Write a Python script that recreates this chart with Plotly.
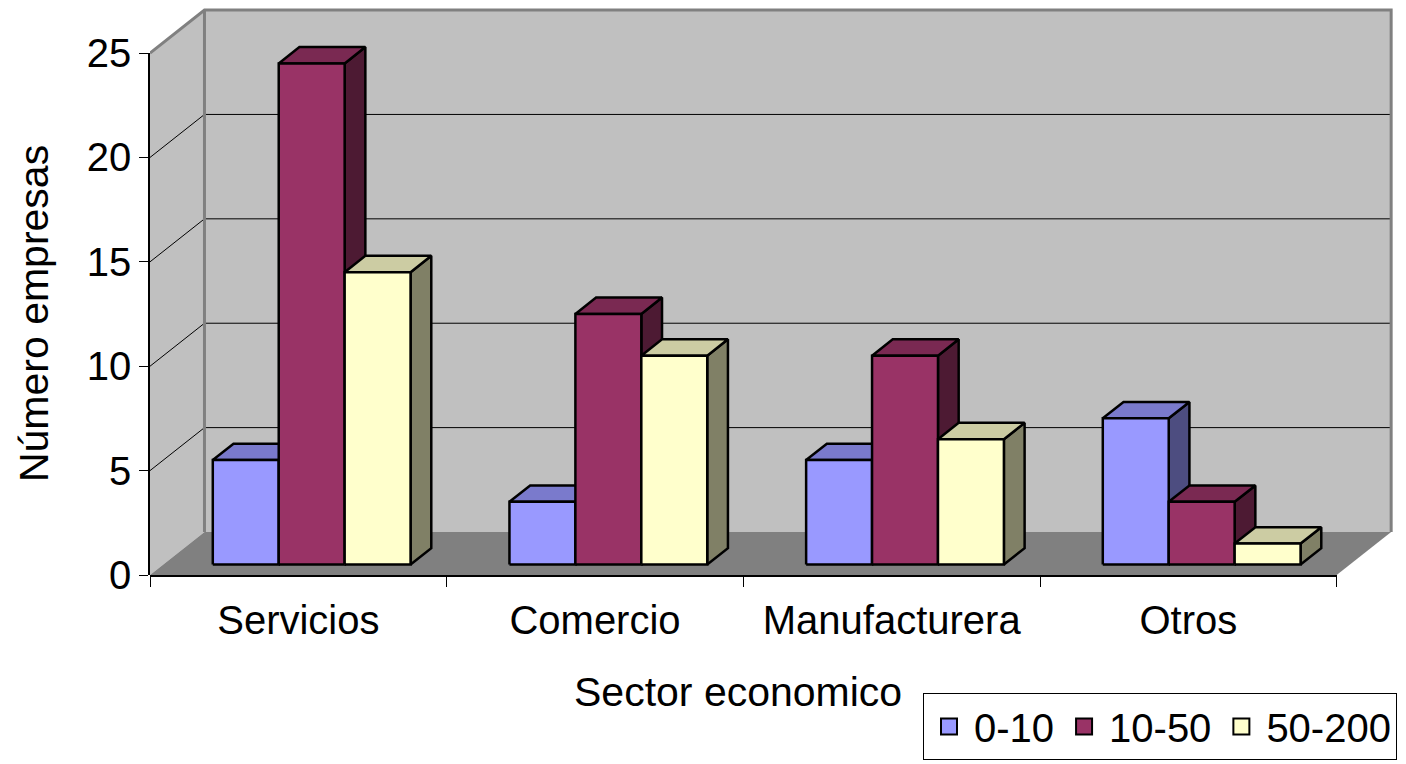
import plotly.graph_objects as go

# ---------------- data ----------------
categories = ["Servicios", "Comercio", "Manufacturera", "Otros"]
series_names = ["0-10", "10-50", "50-200"]
values_0_10 = [5, 3, 5, 7]
values_10_50 = [24, 12, 10, 3]
values_50_200 = [14, 10, 6, 1]
y_tick_values = [0, 5, 10, 15, 20, 25]
x_title = "Sector economico"
y_title = "Número empresas"

# ---------------- style ----------------
front_colors = ["#9999FF", "#993366", "#FFFFCC"]
top_colors = ["#7A7ACC", "#7A2952", "#CCCCA3"]
side_colors = ["#4D4D80", "#4D1A33", "#808066"]
WALL = "#C0C0C0"
FLOOR = "#808080"
FONT = "Liberation Sans, Arial, sans-serif"

W, H = 1406, 764
PX_PER_CAT = 296.75      # pixels per category on the front edge
PX_PER_UNIT = 20.88      # pixels per value unit
LEFT_PX = 150
BOTTOM_PX = 575.5
DX = 54.5 / PX_PER_CAT   # depth offset (x units)
DY = 43.0 / PX_PER_UNIT  # depth offset (y units)
Z0, Z1 = 0.245, 0.625    # depth fraction of bar front / back
GAP = 1.5                # gap width 150 %
BAR_W = 1.0 / (3 + GAP)
NCAT = len(categories)
YMAX = max(y_tick_values)
X_RANGE = [0, 4.2]
Y_RANGE = [0, 27.35]

plot_w = (X_RANGE[1] - X_RANGE[0]) * PX_PER_CAT
plot_h = (Y_RANGE[1] - Y_RANGE[0]) * PX_PER_UNIT
m_l = LEFT_PX
m_r = W - LEFT_PX - plot_w
m_b = H - BOTTOM_PX
m_t = H - m_b - plot_h

fig = go.Figure()


def poly(pts_list):
    xs, ys = [], []
    for pts in pts_list:
        for (px, py) in pts:
            xs.append(px)
            ys.append(py)
        xs.append(pts[0][0])
        ys.append(pts[0][1])
        xs.append(None)
        ys.append(None)
    return xs, ys


def add_poly(pts_list, fill, line_color=None, line_width=0):
    xs, ys = poly(pts_list)
    fig.add_trace(go.Scatter(
        x=xs, y=ys, mode="lines", fill="toself", fillcolor=fill,
        line=dict(color=line_color or fill, width=line_width),
        showlegend=False, hoverinfo="skip"))


def add_lines(segs, color, width):
    xs, ys = [], []
    for seg in segs:
        for (px, py) in seg:
            xs.append(px)
            ys.append(py)
        xs.append(None)
        ys.append(None)
    fig.add_trace(go.Scatter(x=xs, y=ys, mode="lines",
                             line=dict(color=color, width=width),
                             showlegend=False, hoverinfo="skip"))


# walls and floor
add_poly([[(0, 0), (DX, DY), (DX, YMAX + DY), (0, YMAX)]], WALL)
add_poly([[(DX, DY), (NCAT + DX, DY), (NCAT + DX, YMAX + DY), (DX, YMAX + DY)]], WALL)
add_poly([[(0, 0), (NCAT, 0), (NCAT + DX, DY), (DX, DY)]], FLOOR)

# gridlines (left wall diagonal + back wall horizontal)
grid_segs = []
for v in y_tick_values:
    if 0 < v < YMAX:
        grid_segs.append([(0, v), (DX, v + DY), (NCAT + DX, v + DY)])
add_lines(grid_segs, "black", 1)

# wall border lines
add_lines([[(0, YMAX), (DX, YMAX + DY), (NCAT + DX, YMAX + DY), (NCAT + DX, DY)],
           [(DX, DY), (DX, YMAX + DY)]], FLOOR, 3)

# bars
all_values = [values_0_10, values_10_50, values_50_200]
ddx = (Z1 - Z0) * DX
ddy = (Z1 - Z0) * DY
yb = Z0 * DY
for k, vals in enumerate(all_values):
    fronts, tops, sides = [], [], []
    for i, v in enumerate(vals):
        x0 = i + (1 - 3 * BAR_W) / 2 + k * BAR_W + Z0 * DX
        x1 = x0 + BAR_W
        fronts.append([(x0, yb), (x1, yb), (x1, yb + v), (x0, yb + v)])
        tops.append([(x0, yb + v), (x1, yb + v), (x1 + ddx, yb + v + ddy), (x0 + ddx, yb + v + ddy)])
        sides.append([(x1, yb), (x1 + ddx, yb + ddy), (x1 + ddx, yb + v + ddy), (x1, yb + v)])
    add_poly(sides, side_colors[k], "black", 2.5)
    add_poly(tops, top_colors[k], "black", 2.5)
    add_poly(fronts, front_colors[k], "black", 2.5)

# invisible anchors so the visible category / value axes are drawn
fig.add_trace(go.Scatter(x=[None], y=[None], xaxis="x2", yaxis="y",
                         showlegend=False, hoverinfo="skip"))
fig.add_trace(go.Scatter(x=[None], y=[None], xaxis="x", yaxis="y2",
                         showlegend=False, hoverinfo="skip"))

# legend entries
for k, name in enumerate(series_names):
    fig.add_trace(go.Scatter(
        x=[None], y=[None], mode="markers", name=name,
        marker=dict(symbol="square", size=16, color=front_colors[k],
                    line=dict(color="black", width=2))))

# axis titles
fig.add_annotation(text=x_title, xref="paper", yref="paper",
                   x=(738 - m_l) / plot_w, y=-(693 - (H - m_b)) / plot_h,
                   xanchor="center", yanchor="middle", showarrow=False,
                   font=dict(size=41))
fig.add_annotation(text=y_title, xref="paper", yref="paper",
                   x=-(m_l - 34) / plot_w, y=(H - m_b - 314.5) / plot_h,
                   xanchor="center", yanchor="middle", showarrow=False,
                   textangle=-90, font=dict(size=41))

fig.update_layout(
    width=W, height=H,
    margin=dict(l=m_l, r=m_r, t=m_t, b=m_b, autoexpand=False),
    paper_bgcolor="white", plot_bgcolor="rgba(0,0,0,0)",
    font=dict(family=FONT, size=40, color="black"),
    showlegend=True,
    legend=dict(orientation="h", xref="container", yref="container",
                x=923 / W, y=1 - 693 / H, xanchor="left", yanchor="top",
                bgcolor="white", bordercolor="black", borderwidth=1,
                font=dict(size=40), itemwidth=40),
    xaxis=dict(range=X_RANGE, visible=False, domain=[0, 1], fixedrange=True),
    yaxis=dict(range=Y_RANGE, visible=False, domain=[0, 1], fixedrange=True),
    xaxis2=dict(range=[0, NCAT], domain=[0, NCAT / X_RANGE[1]], anchor="y",
                tickmode="array", tickvals=[i + 0.5 for i in range(NCAT)],
                ticktext=categories, ticks="", ticklabelstandoff=9,
                minor=dict(tickmode="array", tickvals=list(range(NCAT + 1)),
                           ticks="outside", ticklen=10, tickcolor="black", tickwidth=1),
                showline=True, linecolor="black", linewidth=1.5,
                showgrid=False, zeroline=False, tickfont=dict(size=40),
                fixedrange=True),
    yaxis2=dict(range=[0, YMAX], domain=[0, YMAX / Y_RANGE[1]], anchor="x",
                tickmode="array", tickvals=y_tick_values,
                ticks="outside", ticklen=9, tickcolor="black",
                showline=True, linecolor="black", linewidth=1.5,
                showgrid=False, zeroline=False, tickfont=dict(size=40),
                fixedrange=True),
)

fig.write_html("out.html")
